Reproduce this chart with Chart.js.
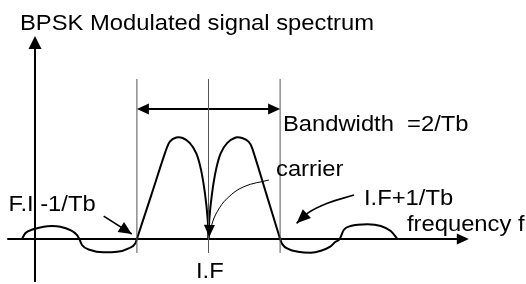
<!DOCTYPE html>
<html><head><meta charset="utf-8">
<script src="https://cdn.jsdelivr.net/npm/chart.js@4/dist/chart.umd.min.js"></script>
<style>html,body{margin:0;padding:0;background:#fff;overflow:hidden}canvas{display:block}</style>
</head><body><canvas id="c" width="526" height="284"></canvas>
<script>
// ---- Data (frequency in units of 1/Tb relative to I.F; amplitude normalised to main-lobe peak) ----
const sideLeftFreq  = [-2.606,-2.559,-2.448,-2.303,-2.186,-2.070,-1.930,-1.836,-1.804,-1.767,-1.650,-1.469,-1.277,-1.115,-1.021,-1.0];
const sideLeftAmp   = [0,0.056,0.095,0.121,0.127,0.121,0.088,0.039,0,-0.059,-0.108,-0.130,-0.125,-0.091,-0.042,0];
const mainLeftFreq  = [-1,-0.8,-0.601,-0.54,-0.45,-0.36,-0.26,-0.17,-0.105,-0.05,-0.012,0];
const mainLeftAmp   = [0,0.428,0.856,0.955,0.995,0.99,0.94,0.84,0.68,0.45,0.2,0];
const mainRightFreq = [0,0.012,0.05,0.105,0.17,0.26,0.38,0.47,0.56,0.611,0.806,1];
const mainRightAmp  = [0,0.2,0.45,0.68,0.84,0.94,0.995,0.99,0.955,0.889,0.445,0];
const sideRightFreq = [1.0,1.03,1.12,1.25,1.427,1.57,1.70,1.77,1.832,1.888,1.986,2.22,2.406,2.545,2.639];
const sideRightAmp  = [0,-0.05,-0.10,-0.125,-0.134,-0.115,-0.075,-0.03,0,0.088,0.127,0.144,0.127,0.078,0];
const guideFreqs    = [-1,0,1];          // I.F-1/Tb, I.F, I.F+1/Tb
const guideSpan     = [-0.137,1.569];
const bandwidthEnds = [-1,1];
const bandwidthLevel = 1.275;
const labels = ["BPSK Modulated signal spectrum","Bandwidth  =2/Tb","carrier","I.F+1/Tb","F.I -1/Tb","frequency f","I.F"];

// ---- Layout / annotation geometry (data units) ----
const X_MIN = -208.5/71.6, X_MAX = (526-208.5)/71.6;
const Y_MAX = 239/102, Y_MIN = -45/102;
const axisX = {from:[-2.811,0], to:[3.636,0]};
const axisY = {from:[-2.423,-0.422], to:[-2.423,1.99]};
const carrierPath = {x:[0.843,0.494,0.262,0.122,0.045,0.01], y:[0.578,0.513,0.399,0.268,0.14,0.02]};
const upperPath   = {x:[2.032,1.66,1.38,1.231], y:[0.431,0.35,0.252,0.154]};
const lowerPath   = {x:[-1.464,-1.072], y:[0.225,0.049]};
const labelPos = [[-2.633,2.049],[1.040,1.054],[0.943,0.618],[2.172,0.333],[-2.793,0.279],[2.772,0.078],[-0.175,-0.382]];

const pts = (xs, ys) => xs.map((x,i)=>({x, y:ys[i]}));
const curve = (xs, ys, mono) => Object.assign({data:pts(xs,ys), borderColor:'#000', borderWidth:2, showLine:true, pointRadius:0, fill:false},
  mono ? {cubicInterpolationMode:'monotone'} : {tension:0.3});
const straight = (data, w, col) => ({data, borderColor:col||'#000', borderWidth:w, showLine:true, pointRadius:0, tension:0, fill:false});

const datasets = [
  ...guideFreqs.map(f => straight([{x:f,y:guideSpan[0]},{x:f,y:guideSpan[1]}], 1, '#555')),
  straight([{x:axisX.from[0],y:axisX.from[1]},{x:axisX.to[0]-0.1,y:axisX.to[1]}], 2),
  straight([{x:axisY.from[0],y:axisY.from[1]},{x:axisY.to[0],y:axisY.to[1]-0.1}], 2),
  curve(sideLeftFreq, sideLeftAmp, true),
  curve(mainLeftFreq, mainLeftAmp, false),
  curve(mainRightFreq, mainRightAmp, false),
  curve(sideRightFreq, sideRightAmp, true),
  straight([{x:bandwidthEnds[0]+0.1,y:bandwidthLevel},{x:bandwidthEnds[1]-0.1,y:bandwidthLevel}], 2),
  {data:pts(carrierPath.x, carrierPath.y), borderColor:'#000', borderWidth:1, showLine:true, pointRadius:0, tension:0.4},
  {data:pts(upperPath.x, upperPath.y), borderColor:'#000', borderWidth:1.6, showLine:true, pointRadius:0, tension:0.4},
  straight(pts(lowerPath.x, lowerPath.y), 1.6)
];

function head(ctx, tip, prev, L, W){
  const dx = tip[0]-prev[0], dy = tip[1]-prev[1];
  const len = Math.hypot(dx,dy)||1, ux = dx/len, uy = dy/len;
  const bx = tip[0]-ux*L, by = tip[1]-uy*L;
  ctx.beginPath();
  ctx.moveTo(tip[0],tip[1]);
  ctx.lineTo(bx - uy*W, by + ux*W);
  ctx.lineTo(bx + uy*W, by - ux*W);
  ctx.closePath(); ctx.fill();
}

const overlay = {
  id:'overlay',
  afterDatasetsDraw(chart){
    const ctx = chart.ctx, xs = chart.scales.x, ys = chart.scales.y;
    const P = (x,y)=>[xs.getPixelForValue(x), ys.getPixelForValue(y)];
    ctx.save();
    ctx.fillStyle = '#000';
    head(ctx, P(...axisX.to), P(axisX.to[0]-1, 0), 12, 5.5);
    head(ctx, P(...axisY.to), P(axisY.to[0], axisY.to[1]-1), 13, 6.5);
    head(ctx, P(bandwidthEnds[0], bandwidthLevel), P(0, bandwidthLevel), 12, 5.5);
    head(ctx, P(bandwidthEnds[1], bandwidthLevel), P(0, bandwidthLevel), 12, 5.5);
    const n = carrierPath.x.length;
    head(ctx, P(carrierPath.x[n-1], carrierPath.y[n-1]), P(carrierPath.x[n-1]+0.005, carrierPath.y[n-1]+0.2), 12, 5.5);
    const m = upperPath.x.length;
    head(ctx, P(upperPath.x[m-1], upperPath.y[m-1]), P(upperPath.x[m-2], upperPath.y[m-2]), 14, 6);
    head(ctx, P(lowerPath.x[1], lowerPath.y[1]), P(lowerPath.x[0], lowerPath.y[0]), 13, 6);
    ctx.font = '22px "Liberation Sans", Arial, sans-serif';
    ctx.textBaseline = 'alphabetic'; ctx.textAlign = 'left';
    labels.forEach((t,i)=>{
      const p = P(labelPos[i][0], labelPos[i][1]);
      ctx.save(); ctx.translate(p[0], p[1]); ctx.scale(1.08,1); ctx.fillText(t,0,0); ctx.restore();
    });
    ctx.restore();
  }
};

new Chart(document.getElementById('c'), {
  type:'scatter',
  data:{datasets},
  options:{
    responsive:false, animation:false, devicePixelRatio:1,
    layout:{padding:0},
    plugins:{legend:{display:false}, tooltip:{enabled:false}, title:{display:false}},
    scales:{
      x:{type:'linear', min:X_MIN, max:X_MAX, display:false},
      y:{type:'linear', min:Y_MIN, max:Y_MAX, display:false}
    }
  },
  plugins:[overlay]
});
</script></body></html>
